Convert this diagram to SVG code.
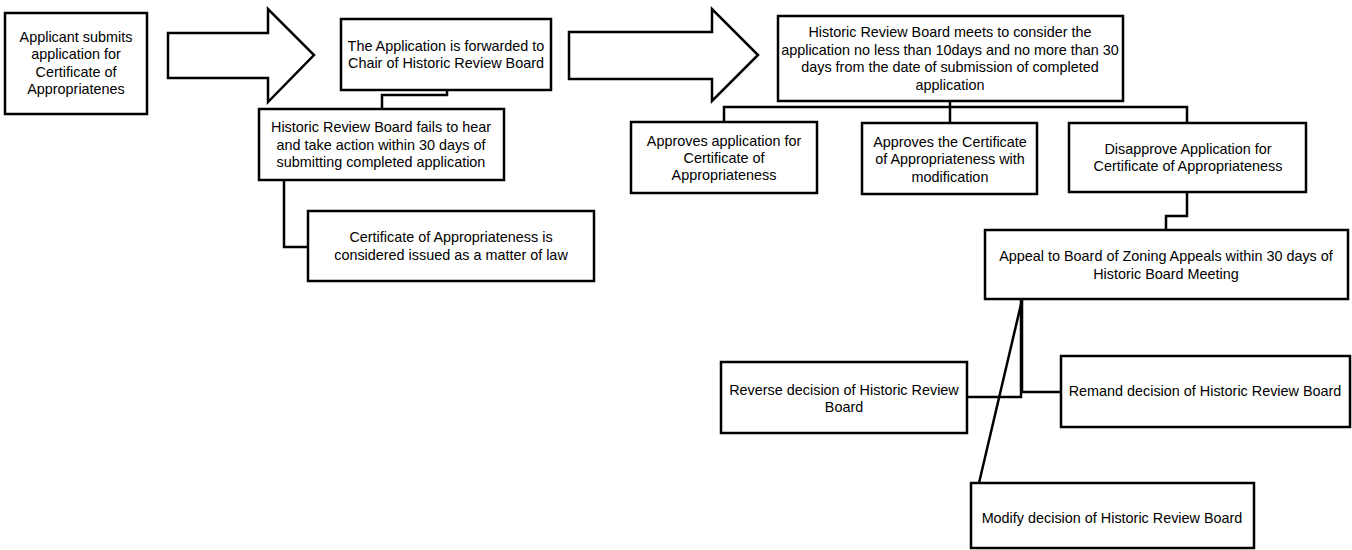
<svg xmlns="http://www.w3.org/2000/svg" width="1352" height="550" viewBox="0 0 1352 550">
<style>
.box{fill:#fff;stroke:#000;stroke-width:2.5}
.arrow{fill:#fff;stroke:#000;stroke-width:2.5;stroke-linejoin:miter}
.conn{fill:none;stroke:#000;stroke-width:2.5}
text{font-family:"Liberation Sans",Arial,sans-serif;font-size:14.4px;fill:#000;text-anchor:middle}
</style>
<rect width="1352" height="550" fill="#fff"/>
<g id="connectors">
<polyline class="conn" points="447,90 447,95 382,95 382,109"/>
<polyline class="conn" points="284,180 284,247 308,247"/>
<polyline class="conn" points="950,101 950,123"/>
<polyline class="conn" points="724,122 724,107 1187,107 1187,123"/>
<polyline class="conn" points="1187,192 1187,216 1166,216 1166,230"/>
<polyline class="conn" points="1021,300 1021,397 967,397"/>
<polyline class="conn" points="1022,300 1022,392 1061,392"/>
<line class="conn" x1="1022" y1="300" x2="979" y2="483"/>
</g>
<g id="arrow1"><polygon class="arrow" points="168,33 268,33 268,9 314,55 268,102 268,78 168,78"/></g>
<g id="arrow2"><polygon class="arrow" points="569,32 712,32 712,9 758,55 712,101 712,79 569,79"/></g>
<g id="n1">
<rect class="box" x="5" y="13" width="142" height="101"/>
<text x="76" y="42">Applicant submits</text>
<text x="76" y="59">application for</text>
<text x="76" y="77">Certificate of</text>
<text x="76" y="94">Appropriatenes</text>
</g>
<g id="n2">
<rect class="box" x="341" y="19" width="210" height="71"/>
<text x="446" y="51">The Application is forwarded to</text>
<text x="446" y="68">Chair of Historic Review Board</text>
</g>
<g id="n3">
<rect class="box" x="259" y="109" width="245" height="71"/>
<text x="381" y="132">Historic Review Board fails to hear</text>
<text x="381" y="150">and take action within 30 days of</text>
<text x="381" y="167">submitting completed application</text>
</g>
<g id="n4">
<rect class="box" x="308" y="211" width="286" height="70"/>
<text x="451" y="242">Certificate of Appropriateness is</text>
<text x="451" y="260">considered issued as a matter of law</text>
</g>
<g id="n5">
<rect class="box" x="778" y="16" width="345" height="85"/>
<text x="950" y="37">Historic Review Board meets to consider the</text>
<text x="950" y="55">application no less than 10days and no more than 30</text>
<text x="950" y="72">days from the date of submission of completed</text>
<text x="950" y="90">application</text>
</g>
<g id="n6">
<rect class="box" x="631" y="122" width="186" height="71"/>
<text x="724" y="146">Approves application for</text>
<text x="724" y="163">Certificate of</text>
<text x="724" y="180">Appropriateness</text>
</g>
<g id="n7">
<rect class="box" x="862" y="123" width="175" height="71"/>
<text x="950" y="147">Approves the Certificate</text>
<text x="950" y="164">of Appropriateness with</text>
<text x="950" y="182">modification</text>
</g>
<g id="n8">
<rect class="box" x="1069" y="123" width="237" height="69"/>
<text x="1188" y="154">Disapprove Application for</text>
<text x="1188" y="171">Certificate of Appropriateness</text>
</g>
<g id="n9">
<rect class="box" x="985" y="230" width="363" height="69"/>
<text x="1166" y="261">Appeal to Board of Zoning Appeals within 30 days of</text>
<text x="1166" y="279">Historic Board Meeting</text>
</g>
<g id="n10">
<rect class="box" x="721" y="362" width="246" height="71"/>
<text x="844" y="395">Reverse decision of Historic Review</text>
<text x="844" y="412">Board</text>
</g>
<g id="n11">
<rect class="box" x="1061" y="356" width="289" height="71"/>
<text x="1205" y="396">Remand decision of Historic Review Board</text>
</g>
<g id="n12">
<rect class="box" x="971" y="483" width="283" height="65"/>
<text x="1112" y="523">Modify decision of Historic Review Board</text>
</g>
</svg>
